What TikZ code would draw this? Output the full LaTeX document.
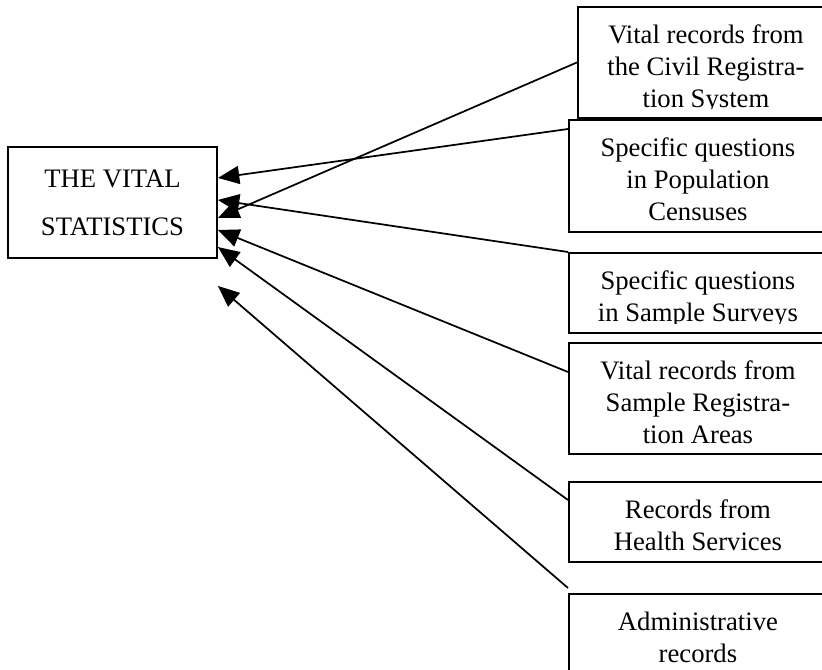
\documentclass[tikz,border=0pt]{standalone}
\usepackage{fontspec}
\setmainfont{Liberation Serif}
\usetikzlibrary{arrows.meta,positioning}
\tikzset{
  srcbox/.style={draw, line width=1.4pt, anchor=north west, inner sep=0pt},
  srctext/.style={align=center, inner sep=0pt, font=\fontsize{20pt}{24pt}\selectfont},
  feed/.style={line width=1.3pt, -{Triangle[length=16pt,width=13.5pt]}}
}
\begin{document}
\begin{tikzpicture}[x=0.75pt, y=-0.75pt]
\useasboundingbox (0,0) rectangle (822,670);
\node[draw, line width=1.4pt, minimum width=156.75pt, minimum height=83.25pt, align=center,
  font=\fontsize{20pt}{36pt}\selectfont] (stat) at (112.5,202.5) {THE VITAL\\STATISTICS};
\foreach \nm/\xx/\yy/\ww/\hh/\txt in {
  vr1/577/6/192pt/83.25pt/{Vital records from\\the Civil Registra-\\tion System},
  spq/568/119/193.5pt/84pt/{Specific questions\\in Population\\Censuses},
  sps/568/252/193.5pt/60pt/{Specific questions\\in Sample Surveys},
  vrs/568/342/193.5pt/83.25pt/{Vital records from\\Sample Registra-\\tion Areas},
  rhs/568/481/193.5pt/60pt/{Records from\\Health Services},
  adm/568/593/193.5pt/90pt/{Administrative\\records}}
{
  \node[srcbox, minimum width=\ww, minimum height=\hh] (\nm) at (\xx,\yy) {};
  \begin{scope}
    \clip (\nm.north west) rectangle ([yshift=8pt]\nm.south east);
    \node[srctext, below=13.7pt of \nm.north] (\nm-txt) {\txt};
  \end{scope}
}
\draw[feed] (vr1.west) -- ([yshift=-11.6pt]stat.east);
\draw[feed] ([yshift=-7.5pt]spq.north west) -- ([yshift=18.4pt]stat.east);
\draw[feed] (sps.north west) -- ([yshift=1.9pt]stat.east);
\draw[feed] ([yshift=-22.5pt]vrs.north west) -- ([yshift=-20.6pt]stat.east);
\draw[feed] ([yshift=-14.25pt]rhs.north west) -- ([yshift=-33.4pt]stat.east);
\draw[feed] ([yshift=3.75pt]adm.north west) -- ([yshift=-20.25pt]stat.south east);
\end{tikzpicture}
\end{document}
